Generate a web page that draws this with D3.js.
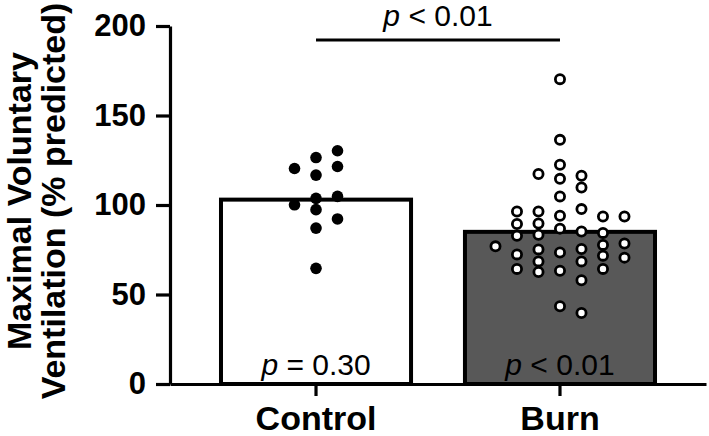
<!DOCTYPE html>
<html>
<head>
<meta charset="utf-8">
<script src="https://cdn.jsdelivr.net/npm/d3@7"></script>
<style>
  html, body { margin: 0; padding: 0; background: #ffffff; }
  svg { display: block; font-family: "Liberation Sans", Arial, sans-serif; }
</style>
</head>
<body>
<svg id="chart" width="709" height="436"></svg>
<script>
// ---- data ----
const categories = ["Control", "Burn"];
const barMeans = [103, 85];
const controlValues = [126.5, 130.3, 116.7, 121.5, 120.4, 103.7, 97.4, 104.8, 100.1, 87.1, 92.2, 64.6];
const burnValues = [
  170.3, 136.4, 122.5, 114.6, 104.8, 94.0, 86.8, 73.5, 63.3,
  116.3, 109.8, 97.7, 85.2, 75.4, 68.5, 58.0,
  117.3, 96.4, 89.7, 83.4, 75.2, 68.5, 62.6,
  93.6, 84.4, 77.7, 71.7,
  96.4, 89.4, 82.8, 72.4, 64.3,
  93.6, 78.5, 64.3,
  76.9, 70.6,
  43.4, 39.7
];
const yTicks = [0, 50, 100, 150, 200];
const groupPValues = [["p", " = 0.30"], ["p", " < 0.01"]];
const comparisonP = ["p", " < 0.01"];
const yTitleLines = ["Maximal Voluntary", "Ventilation (% predicted)"];

// ---- layout ----
const svg = d3.select("#chart");
const y = d3.scaleLinear().domain([0, 200]).range([384, 26]);
const x = d3.scaleBand().domain(categories).range([170, 706])
  .paddingInner(0.221).paddingOuter(0.209);
const fills = ["#ffffff", "#585858"];

// bars
svg.append("g").selectAll("rect").data(categories).join("rect")
  .attr("x", d => x(d))
  .attr("y", (d, i) => y(barMeans[i]))
  .attr("width", x.bandwidth())
  .attr("height", (d, i) => y(0) - y(barMeans[i]))
  .attr("fill", (d, i) => fills[i])
  .attr("stroke", "#000")
  .attr("stroke-width", 4);

// p-values inside bars
svg.append("g").selectAll("text").data(categories).join("text")
  .attr("x", d => x(d) + x.bandwidth() / 2)
  .attr("y", 375)
  .attr("text-anchor", "middle")
  .attr("font-size", 30)
  .attr("fill", "#000")
  .each(function(d, i) {
    const t = d3.select(this);
    t.append("tspan").attr("font-style", "italic").text(groupPValues[i][0]);
    t.append("tspan").text(groupPValues[i][1]);
  });

// beeswarm layout on discrete columns
function swarm(values, cx, colStep, minGap) {
  const prefs = [0, 1, -1, 2, -2, 3, -3, 4, -4, 5, -5];
  const placed = [];
  values.forEach(v => {
    const py = y(v);
    for (const k of prefs) {
      if (!placed.some(p => p.k === k && Math.abs(p.py - py) < minGap)) {
        placed.push({ v, k, py });
        break;
      }
    }
  });
  return placed.map(p => ({ x: cx + p.k * colStep, y: p.py }));
}

const cC = x("Control") + x.bandwidth() / 2;
const cB = x("Burn") + x.bandwidth() / 2;
const controlPts = swarm(controlValues, cC, 21.5, 10);
const burnPts = swarm(burnValues, cB, 21.5, 10);

svg.append("g").selectAll("circle").data(controlPts).join("circle")
  .attr("cx", d => d.x).attr("cy", d => d.y).attr("r", 5.8)
  .attr("fill", "#000");

svg.append("g").selectAll("circle").data(burnPts).join("circle")
  .attr("cx", d => d.x).attr("cy", d => d.y).attr("r", 4.6)
  .attr("fill", "#fff").attr("stroke", "#000").attr("stroke-width", 2.8);

// axes
const yAxis = svg.append("g").attr("transform", "translate(170,0)")
  .call(d3.axisLeft(y).tickValues(yTicks).tickSize(14).tickSizeOuter(0).tickPadding(10));
yAxis.select(".domain").attr("stroke-width", 3.2);
yAxis.selectAll(".tick line").attr("stroke-width", 3.2);
yAxis.selectAll(".tick text").attr("font-size", 31).attr("font-weight", "bold")
  .attr("font-family", "'Liberation Sans', Arial, sans-serif").attr("fill", "#000");

const xAxis = svg.append("g").attr("transform", "translate(0,384)")
  .call(d3.axisBottom(x).tickSize(12).tickSizeOuter(0).tickPadding(10));
xAxis.select(".domain").attr("stroke-width", 3.2);
xAxis.selectAll(".tick line").attr("stroke-width", 3.2);
xAxis.selectAll(".tick text").attr("font-size", 34).attr("font-weight", "bold")
  .attr("font-family", "'Liberation Sans', Arial, sans-serif").attr("fill", "#000");

// comparison bracket
svg.append("line")
  .attr("x1", cC).attr("x2", cB).attr("y1", 40).attr("y2", 40)
  .attr("stroke", "#000").attr("stroke-width", 3.2);
const ct = svg.append("text")
  .attr("x", (cC + cB) / 2).attr("y", 26)
  .attr("text-anchor", "middle").attr("font-size", 30).attr("fill", "#000");
ct.append("tspan").attr("font-style", "italic").text(comparisonP[0]);
ct.append("tspan").text(comparisonP[1]);

// y title
const yt = svg.append("text")
  .attr("transform", "translate(31,201) rotate(-90)")
  .attr("text-anchor", "middle")
  .attr("font-size", 34).attr("font-weight", "bold").attr("fill", "#000");
yTitleLines.forEach((line, i) => {
  yt.append("tspan").attr("x", 0).attr("y", i * 34).text(line);
});
</script>
</body>
</html>
